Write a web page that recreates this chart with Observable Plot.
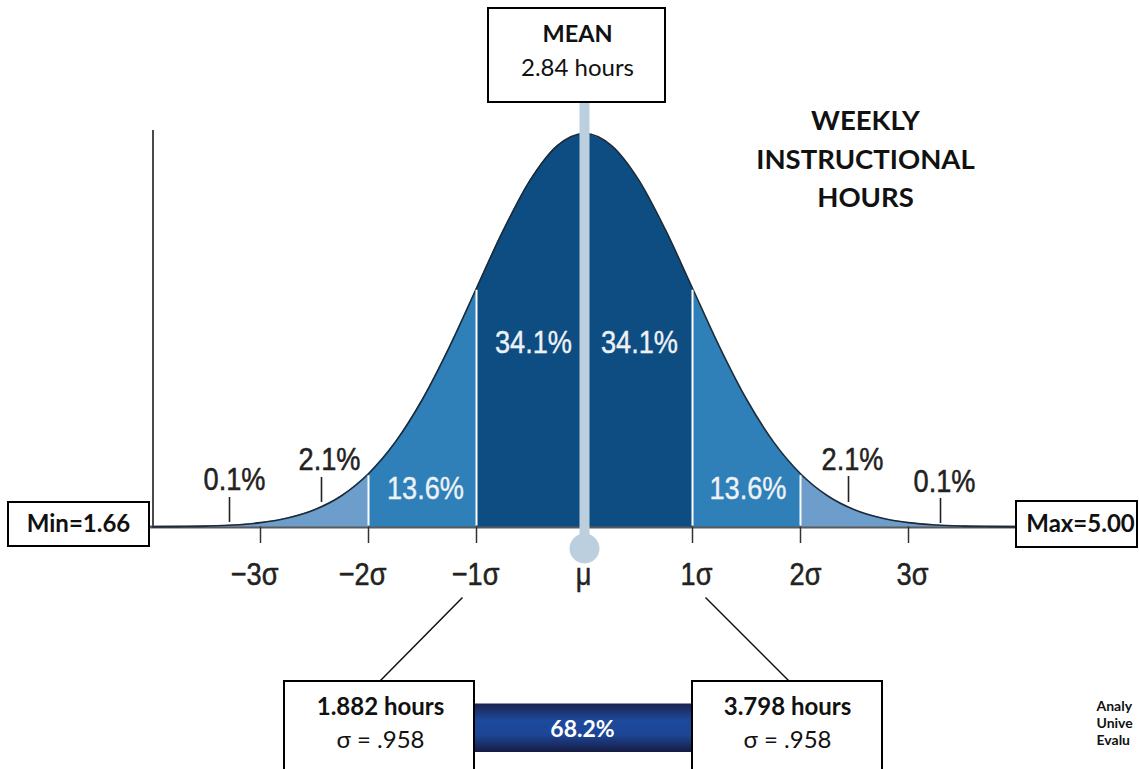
<!DOCTYPE html>
<html>
<head>
<meta charset="utf-8">
<script src="https://cdn.jsdelivr.net/npm/d3@7"></script>
<script src="https://cdn.jsdelivr.net/npm/@observablehq/plot@0.6"></script>
<style>
  html, body { margin: 0; padding: 0; background: #fff; overflow: hidden; }
  #chart svg { display: block; overflow: hidden; }
</style>
</head>
<body>
<div id="chart"></div>
<script>
// ---- data ----
const zValues = [-4,-3.75,-3.5,-3.25,-3,-2.75,-2.5,-2.25,-2,-1.75,-1.5,-1.25,-1,-0.75,-0.5,-0.25,0,
                 0.25,0.5,0.75,1,1.25,1.5,1.75,2,2.25,2.5,2.75,3,3.25,3.5,3.75,4];
const density = [0.0001,0.0004,0.0009,0.002,0.0044,0.0091,0.0175,0.0317,0.054,0.0863,0.1295,0.1826,0.242,0.3011,0.3521,0.3867,0.3989,
                 0.3867,0.3521,0.3011,0.242,0.1826,0.1295,0.0863,0.054,0.0317,0.0175,0.0091,0.0044,0.002,0.0009,0.0004,0.0001];
const bandEdges = [-4,-3,-2,-1,0,1,2,3,4];
const bandShares = ["0.1%","2.1%","13.6%","34.1%","34.1%","13.6%","2.1%","0.1%"];
const sigmaTicks = [-3,-2,-1,0,1,2,3];
const sigmaLabels = ["−3σ","−2σ","−1σ","μ","1σ","2σ","3σ"];
const meanLabel = ["MEAN", "2.84 hours"];
const titleLines = ["WEEKLY", "INSTRUCTIONAL", "HOURS"];
const minLabel = "Min=1.66";
const maxLabel = "Max=5.00";
const lowerLabel = ["1.882 hours", "σ = .958"];
const upperLabel = ["3.798 hours", "σ = .958"];
const withinOne = "68.2%";
const footnote = ["Analy", "Unive", "Evalu"];

// ---- layout helpers (pixel layout -> data space) ----
const W = 1139, H = 769;
const MU_PX = 584, SIG_PX = 108, BASE_PX = 526.5, PEAK_PX = 133;
const PEAK = 0.3989;
const X = px => (px - MU_PX) / SIG_PX;
const Y = py => (BASE_PX - py) * PEAK / (BASE_PX - PEAK_PX);

const rows = zValues.map((z, i) => ({z, d: density[i]}));
const dAt = z => rows.find(r => r.z === z).d;

const bandColor = ["#6d9dca","#6d9dca","#2f80b8","#0e4d82","#0e4d82","#2f80b8","#6d9dca","#6d9dca"];
const bands = bandShares.map((s, i) => ({
  a: bandEdges[i], b: bandEdges[i+1], share: s, color: bandColor[i],
  pts: rows.filter(r => r.z >= bandEdges[i] && r.z <= bandEdges[i+1])
}));

const pctFont = "'Liberation Sans', Arial, sans-serif";
const boxFont = "Lato, 'Open Sans', sans-serif";
const PCT_SIZE = 32;

const leaderLabels = [
  {i: 0, lx: 234, ly: 479, tx: 229, t1: 497, t2: 522},
  {i: 1, lx: 329, ly: 459, tx: 321, t1: 477, t2: 502},
  {i: 6, lx: 852, ly: 459, tx: 848, t1: 476, t2: 502},
  {i: 7, lx: 944, ly: 481, tx: 940, t1: 498, t2: 523}
];
const innerLabels = [
  {i: 2, lx: 425, ly: 488.5},
  {i: 3, lx: 533, ly: 342},
  {i: 4, lx: 639, ly: 342},
  {i: 5, lx: 747.5, ly: 488.5}
];
const sigmaLabelPx = [254, 362, 475, 583, 696, 805, 912];

const boxes = [
  {x1: 488, x2: 665, y1: 8, y2: 102},
  {x1: 8, x2: 149, y1: 502, y2: 546},
  {x1: 1016, x2: 1137, y1: 501, y2: 547},
  {x1: 284, x2: 474, y1: 681, y2: 800},
  {x1: 692, x2: 882, y1: 681, y2: 800}
];

const marks = [
  Plot.ruleX([X(152.5)], {y1: Y(526.5), y2: Y(130), stroke: "#4a4a4a", strokeWidth: 2}),
  Plot.ruleY([0], {x1: X(149), x2: X(1016), stroke: "#5a5a5a", strokeWidth: 3}),
  ...bands.map(b => Plot.areaY(b.pts, {x: "z", y: "d", fill: b.color, curve: "monotone-x"})),
  Plot.lineY(rows, {x: "z", y: "d", stroke: "#1c2b3a", strokeWidth: 1.6, curve: "monotone-x"}),
  Plot.ruleX([-2,-1,1,2], {x: d => d, y1: 0.001, y2: d => dAt(d) - 0.002, stroke: "white", strokeWidth: 2}),
  Plot.ruleX(sigmaTicks.filter(t => t !== 0), {x: d => d, y1: 0, y2: Y(543), stroke: "#333", strokeWidth: 1.5}),
  Plot.text(sigmaTicks, {x: (d, i) => X(sigmaLabelPx[i]), y: Y(574), text: (d, i) => sigmaLabels[i], fontSize: PCT_SIZE, fontFamily: pctFont, fill: "#222", stroke: "#222", strokeWidth: 0.5}),
  Plot.ruleX(leaderLabels, {x: d => X(d.tx), y1: d => Y(d.t2), y2: d => Y(d.t1), stroke: "#222", strokeWidth: 1.6}),
  Plot.text(leaderLabels, {x: d => X(d.lx), y: d => Y(d.ly), text: d => bandShares[d.i], fontSize: PCT_SIZE, fontFamily: pctFont, fill: "#222", stroke: "#222", strokeWidth: 0.5}),
  Plot.text(innerLabels, {x: d => X(d.lx), y: d => Y(d.ly), text: d => bandShares[d.i], fontSize: PCT_SIZE, fontFamily: pctFont, fill: "#eef2f6", stroke: "#eef2f6", strokeWidth: 0.4}),
  Plot.ruleX([0], {y1: Y(548), y2: Y(102), stroke: "#bccfdf", strokeWidth: 10}),
  Plot.dot([0], {x: d => d, y: Y(548), r: 15, fill: "#bccfdf"}),
  Plot.link([{a: 462, b: 597, c: 380, e: 680}, {a: 705, b: 597, c: 788, e: 680}],
    {x1: d => X(d.a), y1: d => Y(d.b), x2: d => X(d.c), y2: d => Y(d.e), stroke: "#111", strokeWidth: 1.5}),
  Plot.rect([withinOne], {x1: X(474), x2: X(692), y1: Y(752), y2: Y(703.5), fill: "url(#barGrad)"}),
  Plot.text([withinOne], {x: X(582), y: Y(729), text: d => d, fill: "white", fontWeight: "bold", fontSize: 23, fontFamily: boxFont}),
  Plot.rect(boxes, {x1: d => X(d.x1), x2: d => X(d.x2), y1: d => Y(d.y2), y2: d => Y(d.y1), fill: "white", stroke: "#000", strokeWidth: 2}),
  Plot.text([meanLabel[0]], {x: X(577), y: Y(34), text: d => d, fontWeight: "bold", fontSize: 23.5, fontFamily: boxFont, fill: "#111"}),
  Plot.text([meanLabel[1]], {x: X(577), y: Y(68), text: d => d, fontSize: 24, fontFamily: boxFont, fill: "#111"}),
  Plot.text([minLabel], {x: X(78), y: Y(524), text: d => d, fontWeight: "bold", fontSize: 24, fontFamily: boxFont, fill: "#111"}),
  Plot.text([maxLabel], {x: X(1080), y: Y(524), text: d => d, fontWeight: "bold", fontSize: 24, fontFamily: boxFont, fill: "#111"}),
  Plot.text([lowerLabel[0]], {x: X(380), y: Y(707), text: d => d, fontWeight: "bold", fontSize: 24, fontFamily: boxFont, fill: "#111"}),
  Plot.text([lowerLabel[1]], {x: X(380), y: Y(740), text: d => d, fontSize: 24, fontFamily: boxFont, fill: "#111"}),
  Plot.text([upperLabel[0]], {x: X(787), y: Y(707), text: d => d, fontWeight: "bold", fontSize: 24, fontFamily: boxFont, fill: "#111"}),
  Plot.text([upperLabel[1]], {x: X(787), y: Y(740), text: d => d, fontSize: 24, fontFamily: boxFont, fill: "#111"}),
  Plot.text(titleLines, {x: X(865), y: (d, i) => Y(121 + i * 38.5), text: d => d, fontWeight: "bold", fontSize: 27.5, fontFamily: boxFont, fill: "#111"}),
  Plot.text(footnote, {x: X(1096), y: (d, i) => Y(706 + i * 17), text: d => d, textAnchor: "start", fontWeight: "bold", fontSize: 14, fontFamily: boxFont, fill: "#111"})
];

const chart = Plot.plot({
  width: W,
  height: H,
  margin: 0,
  x: {domain: [X(0), X(W)], range: [0, W], axis: null},
  y: {domain: [0, PEAK], range: [BASE_PX, PEAK_PX], axis: null},
  style: {background: "white", overflow: "hidden"},
  marks
});

const defs = d3.select(chart).insert("defs", ":first-child");
const g = defs.append("linearGradient").attr("id", "barGrad").attr("x1", 0).attr("y1", 0).attr("x2", 0).attr("y2", 1);
g.append("stop").attr("offset", "0%").attr("stop-color", "#1b2350");
g.append("stop").attr("offset", "35%").attr("stop-color", "#1d4a9c");
g.append("stop").attr("offset", "65%").attr("stop-color", "#1d4595");
g.append("stop").attr("offset", "100%").attr("stop-color", "#161c42");

document.getElementById("chart").appendChild(chart);

// condense the Helvetica-style labels horizontally (as in the reference)
d3.select(chart).selectAll("g[font-family*='Liberation'] text").each(function () {
  const b = this.getBBox();
  const cx = b.x + b.width / 2;
  const t = this.getAttribute("transform") || "";
  this.setAttribute("transform", `${t} translate(${cx},0) scale(0.85,1) translate(${-cx},0)`);
});
</script>
</body>
</html>
